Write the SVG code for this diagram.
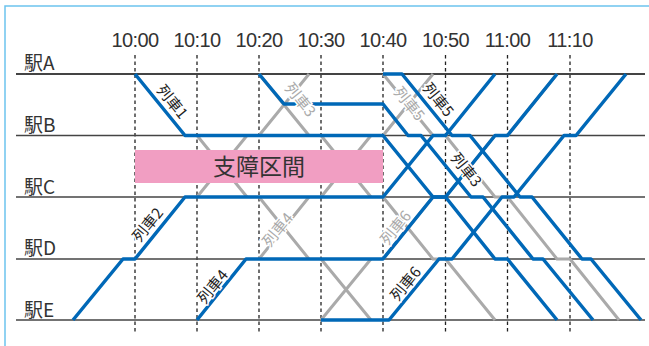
<svg xmlns="http://www.w3.org/2000/svg" width="649" height="346" viewBox="0 0 649 346">
<style>
.frame{fill:none;stroke:#6cc4ee;stroke-width:1.5}
.st{stroke:#444;stroke-width:1.4;fill:none}
.tick{stroke:#222;stroke-width:1.3;stroke-dasharray:3.5 3;fill:none}
.time{font-family:"Liberation Sans",Arial,sans-serif;font-size:20px;fill:#333;text-anchor:middle;letter-spacing:-0.6px}
.sta{font-family:"Noto Sans CJK JP","Liberation Sans",sans-serif;font-size:19px;fill:#333}
.plan{fill:none;stroke:#aaa;stroke-width:3;stroke-linejoin:round}
.act{fill:none;stroke:#0068b7;stroke-width:3.5;stroke-linejoin:round}
.lb{font-family:"Noto Sans CJK JP","Liberation Sans",sans-serif;font-size:15px;text-anchor:middle;paint-order:stroke;stroke:#fff;stroke-width:3px}
.lbk{fill:#222}
.lbg{fill:#aaa}
.box{fill:#f19ec2}
.boxt{font-family:"Noto Sans CJK JP",sans-serif;font-size:23px;fill:#333;text-anchor:middle}
</style>
<path class="frame" d="M5,346 V6 H649"/>
<g id="times">
<text class="time" x="135" y="47">10:00</text>
<text class="time" x="197" y="47">10:10</text>
<text class="time" x="259" y="47">10:20</text>
<text class="time" x="321" y="47">10:30</text>
<text class="time" x="383" y="47">10:40</text>
<text class="time" x="445.5" y="47">10:50</text>
<text class="time" x="507.5" y="47">11:00</text>
<text class="time" x="570" y="47">11:10</text>
</g>
<g id="ticks">
<path class="tick" d="M135,55V333M197,55V333M259,55V333M321,55V333M383,55V333M445.5,55V333M507.5,55V333M570,55V333"/>
</g>
<g id="stations">
<g id="stA"><text class="sta" x="24" y="70">駅A</text><path class="st" d="M16,74H645" style="stroke-width:2"/></g>
<g id="stB"><text class="sta" x="24" y="132">駅B</text><path class="st" d="M16,135.5H645"/></g>
<g id="stC"><text class="sta" x="24" y="194">駅C</text><path class="st" d="M16,197H645"/></g>
<g id="stD"><text class="sta" x="24" y="255">駅D</text><path class="st" d="M16,259H645"/></g>
<g id="stE"><text class="sta" x="24" y="317">駅E</text><path class="st" d="M16,320H645"/></g>
</g>
<g id="connectors">
<g id="planned">
<path class="plan" d="M197,135.5L247,197M259,197L309,259M321,259L371,320"/>
<path class="plan" d="M197,197L247,135.5M259,135.5L309,74"/>
<path class="plan" d="M259,74L309,135.5M321,135.5L371,197M383,197L433,259L445.5,259L495,320"/>
<path class="plan" d="M259,259L309,197M321,197L371,135.5M383,135.5L433,74"/>
<path class="plan" d="M383,74L433,135.5L445.5,135.5L495,197L507.5,197L557,259L570,259L619,320"/>
<path class="plan" d="M321,320L371,259M383,259L433,197L445.5,197L495,135.5L507.5,135.5L557,74"/>
</g>
<g id="actual">
<path id="train1" class="act" d="M135,74L185,135.5H383L433,197H445.5L495,259H507.5L557,320"/>
<path id="train2" class="act" d="M73,320L123,259H135L185,197H383L433,135.5H445.5L495,74"/>
<path id="train3" class="act" d="M259,74L284,104H383L408,135.5H421L471,197H483L533,259H543L593,320"/>
<path id="train4" class="act" d="M197,320L246,259H383L433,197H445.5L495,135.5H507.5L557,74"/>
<path id="train5" class="act" d="M383,74H402L452,135.5H470L520,197H532L582,259H591L641,320"/>
<path id="train6" class="act" d="M321,320H389L439,259H452L502,197H514L564,135.5H576L626,74"/>
</g>
</g>
<g id="obstruction">
<rect class="box" x="135" y="150" width="248" height="33"/>
<text class="boxt" x="259" y="175">支障区間</text>
</g>
<g id="labels">
<text class="lb lbk" transform="translate(172,102) rotate(51)" y="5">列車1</text>
<text class="lb lbg" transform="translate(300,100) rotate(51)" y="5">列車3</text>
<text class="lb lbg" transform="translate(409,104) rotate(51)" y="5">列車5</text>
<text class="lb lbk" transform="translate(438,100) rotate(51)" y="5">列車5</text>
<text class="lb lbk" transform="translate(466,170) rotate(51)" y="5">列車3</text>
<text class="lb lbk" transform="translate(148,225) rotate(-51)" y="5">列車2</text>
<text class="lb lbg" transform="translate(278,230) rotate(-51)" y="5">列車4</text>
<text class="lb lbk" transform="translate(213,287) rotate(-51)" y="5">列車4</text>
<text class="lb lbg" transform="translate(396,228) rotate(-51)" y="5">列車6</text>
<text class="lb lbk" transform="translate(406,284) rotate(-51)" y="5">列車6</text>
</g>
</svg>
